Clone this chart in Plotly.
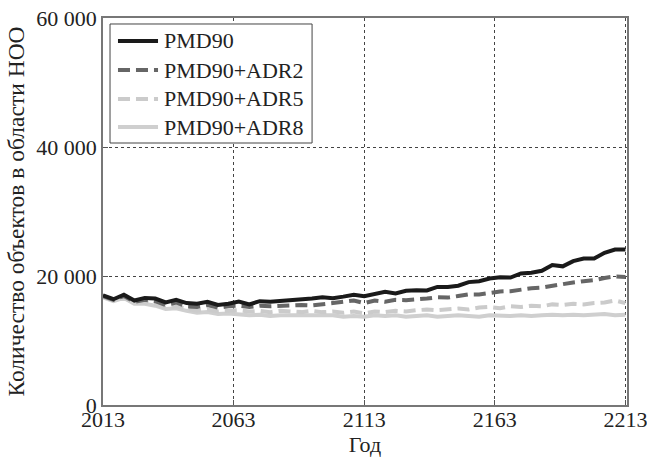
import plotly.graph_objects as go

years = list(range(2013, 2214, 4))

pmd90 = [17000, 16400, 17100, 16200, 16600, 16500, 15900, 16300, 15800, 15700,
         16000, 15500, 15700, 16050, 15600, 16100, 16000, 16100, 16300, 16350,
         16500, 16700, 16550, 16800, 17100, 16850, 17200, 17550, 17300, 17700,
         17800, 17750, 18300, 18300, 18500, 19050, 19200, 19600, 19800, 19750,
         20400, 20500, 20800, 21700, 21500, 22300, 22700, 22700, 23600, 24100,
         24100]

adr2 = [16900, 16300, 16900, 16000, 16300, 16100, 15500, 15900, 15300, 15200,
        15500, 15100, 15300, 15400, 15200, 15400, 15300, 15400, 15450, 15500,
        15450, 15700, 15800, 16000, 16200, 15800, 16200, 16000, 16300, 16250,
        16300, 16500, 16700, 16650, 16900, 17150, 17150, 17450, 17600, 17650,
        17950, 18100, 18200, 18500, 18700, 19000, 19200, 19350, 19700, 19950,
        19850]

adr5 = [16800, 16200, 16700, 15800, 15900, 15600, 15100, 15300, 14900, 14600,
        14800, 14500, 14600, 14700, 14500, 14600, 14400, 14600, 14500, 14400,
        14600, 14400, 14500, 14300, 14500, 14200, 14500, 14400, 14600, 14500,
        14700, 14800, 14700, 14900, 14950, 14800, 15100, 15200, 15000, 15300,
        15200, 15400, 15300, 15600, 15500, 15700, 15600, 15800, 15900, 16200,
        15800]

adr8 = [16700, 16100, 16600, 15700, 15700, 15400, 14900, 15000, 14600, 14300,
        14400, 14100, 14200, 14100, 13900, 14000, 13800, 13900, 13900, 13800,
        13900, 13800, 13900, 13700, 13800, 13700, 13900, 13800, 13900, 13700,
        13800, 13900, 13700, 13800, 13900, 13800, 13700, 13900, 13800, 13800,
        13900, 13800, 13900, 14000, 13900, 14000, 13900, 14000, 14100, 13900,
        14000]

x_ticks = [2013, 2063, 2113, 2163, 2213]
y_ticks = [0, 20000, 40000, 60000]
y_tick_labels = ["0", "20 000", "40 000", "60 000"]

series = [
    ("PMD90", pmd90, "#1a1a1a", "solid"),
    ("PMD90+ADR2", adr2, "#666666", "12px,6px"),
    ("PMD90+ADR5", adr5, "#cbcbcb", "12px,6px"),
    ("PMD90+ADR8", adr8, "#cfcfcf", "solid"),
]

fig = go.Figure()
for name, vals, color, dash in reversed(series):
    fig.add_trace(go.Scatter(x=years, y=vals, mode="lines", name=name,
                             line=dict(color=color, width=4, dash=dash)))

font = "Liberation Serif"
tfont = dict(family=font, size=22, color="#222222")

# legend drawn in paper coordinates
fig.add_shape(type="rect", xref="paper", yref="paper",
              x0=0.0134, x1=0.399, y0=0.677, y1=0.9845,
              line=dict(color="#444444", width=1), fillcolor="white", layer="above")
row_y = [0.9406, 0.8656, 0.7907, 0.7183]
for (name, vals, color, dash), yy in zip(series, row_y):
    fig.add_shape(type="line", xref="paper", yref="paper",
                  x0=0.0286, x1=0.105, y0=yy, y1=yy, layer="above",
                  line=dict(color=color, width=4, dash=dash))
    fig.add_annotation(x=0.1126, y=yy, xref="paper", yref="paper",
                       text=name, showarrow=False, xanchor="left", yanchor="middle",
                       font=dict(family=font, size=22, color="#222222"))

fig.update_layout(
    width=647, height=459,
    margin=dict(l=103, r=20, t=18, b=54),
    paper_bgcolor="white", plot_bgcolor="white",
    font=tfont,
    showlegend=False,
)
fig.update_xaxes(range=[2013, 2213.6], tickvals=x_ticks, automargin=False,
                 tickfont=tfont, ticklabeloverflow="allow", ticklabelstandoff=-6,
                 showline=True, linecolor="#777777", linewidth=1.5, mirror=True,
                 ticks="inside", ticklen=5, tickcolor="#555555",
                 showgrid=True, gridcolor="#444444", griddash="dot", gridwidth=1,
                 zeroline=False,
                 title=dict(text="Год", standoff=0, font=tfont))
fig.update_yaxes(range=[0, 60000], tickvals=y_ticks, ticktext=y_tick_labels,
                 automargin=False, tickfont=tfont, ticklabeloverflow="allow",
                 showline=True, linecolor="#777777", linewidth=1.5, mirror=True,
                 ticks="inside", ticklen=5, tickcolor="#555555",
                 showgrid=True, gridcolor="#444444", griddash="dot", gridwidth=1,
                 zeroline=False,
                 title=dict(text="Количество объектов в области НОО", standoff=5,
                            font=dict(family=font, size=23.5, color="#222222")))

fig.write_html("out.html", config={"displayModeBar": False},
               post_script="document.body.style.margin='0';document.body.style.overflow='hidden';")
